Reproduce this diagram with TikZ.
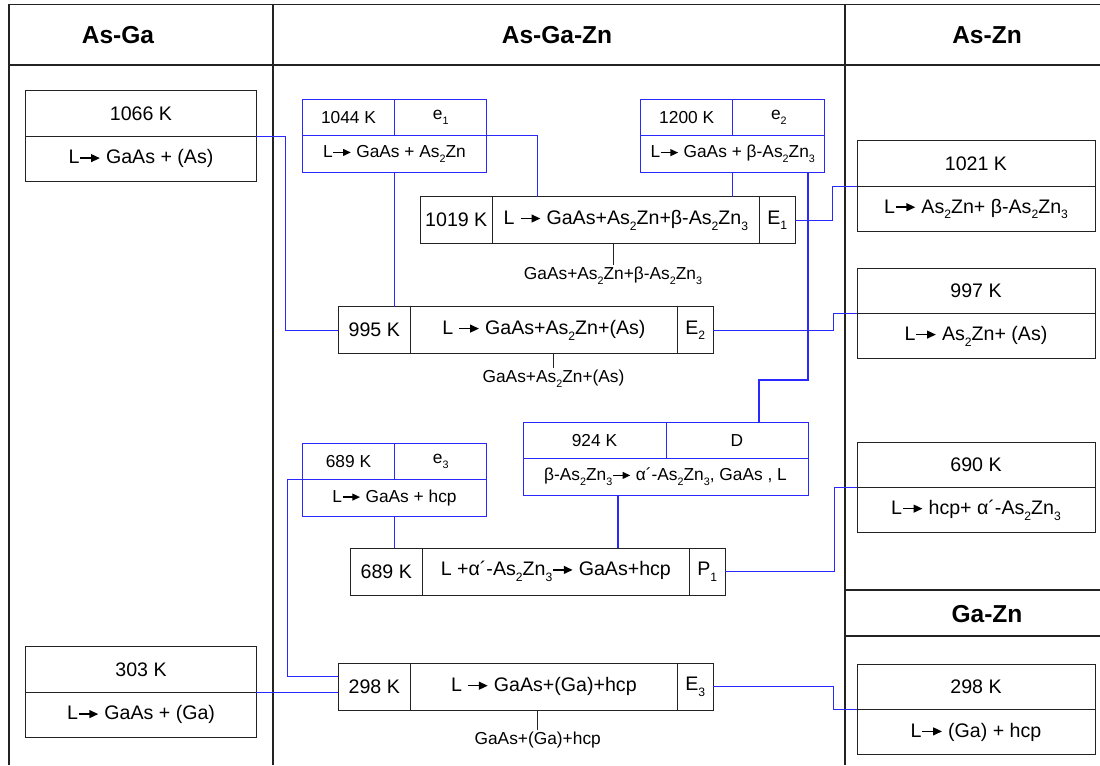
\documentclass[tikz,border=0pt]{standalone}
\usepackage{fontspec}
\usepackage{graphicx}
\setmainfont{Liberation Sans}
\usetikzlibrary{arrows.meta, positioning}
\definecolor{linkblue}{RGB}{40, 40, 255}
\definecolor{framegray}{RGB}{35, 35, 35}
\newcommand{\sbs}[1]{\raisebox{-0.55ex}{\scalebox{0.62}{#1}}}
\newcommand{\ra}{\tikz[baseline=0pt]\draw[black, line width=0.075em, -{Triangle[length=0.45em, width=0.4em]}] (0pt,0.3em) -- (1em,0.3em);}

\begin{document}
\begin{tikzpicture}[
    x=0.75pt, y=-0.75pt,
    frame/.style={draw=framegray, line width=0.8pt},
    hdr/.style={font=\fontsize{18.4}{21}\selectfont\bfseries},
    cell/.style={draw=framegray, line width=0.75pt, inner sep=0pt, outer sep=0pt, align=center, font=\fontsize{14.7}{17}\selectfont},
    asga/.style={cell, minimum height=34.1pt, minimum width=173.1pt},
    aszn/.style={cell, minimum height=34.1pt, minimum width=178.5pt},
    blu/.style={cell, draw=linkblue, font=\fontsize{13}{15}\selectfont, minimum height=27.4pt},
    inv/.style={cell, minimum height=35.25pt},
    link/.style={draw=linkblue, line width=0.9pt},
    tick/.style={draw=framegray, line width=0.6pt},
    prod/.style={font=\fontsize{13}{15}\selectfont, inner sep=1pt}
  ]
    \useasboundingbox (0,0) rectangle (1100,765);

    % table frame
    \draw[frame] (9,765) -- (9,4.3) -- (1100,4.3);
    \draw[frame] (9,65) -- (1100,65);
    \draw[frame] (273,4.3) -- (273,765);
    \draw[frame] (845,4.3) -- (845,765);
    \draw[frame] (845,590) -- (1100,590) (845,636) -- (1100,636);

    \node[hdr] (tAsGa) at (118,35) {As-Ga};
    \node[hdr] (tAsGaZn) at (557,35) {As-Ga-Zn};
    \node[hdr] (tAsZn) at (987,35) {As-Zn};
    \node[hdr] (tGaZn) at (987,614) {Ga-Zn};

    % binary systems
    \node[asga, anchor=north west] (b1066t) at (25.6,90.7) {1066 K};
    \node[asga, below=0pt of b1066t] (b1066r) {L\ra\ GaAs + (As)};
    \node[asga, anchor=north west] (b303t) at (25.6,646.7) {303 K};
    \node[asga, below=0pt of b303t] (b303r) {L\ra\ GaAs + (Ga)};
    \node[aszn, anchor=north west] (b1021t) at (857,140.7) {1021 K};
    \node[aszn, below=0pt of b1021t] (b1021r) {L\ra\ As\sbs2Zn+ β-As\sbs2Zn\sbs3};
    \node[aszn, anchor=north west] (b997t) at (857,268) {997 K};
    \node[aszn, below=0pt of b997t] (b997r) {L\ra\ As\sbs2Zn+ (As)};
    \node[aszn, anchor=north west] (b690t) at (857,442) {690 K};
    \node[aszn, below=0pt of b690t] (b690r) {L\ra\ hcp+ α´-As\sbs2Zn\sbs3};
    \node[aszn, anchor=north west] (b298t) at (857,664) {298 K};
    \node[aszn, below=0pt of b298t] (b298r) {L\ra\ (Ga) + hcp};

    % boundary reactions
    \node[blu, minimum width=69.3pt, anchor=north west] (e1t) at (302.3,99.3) {1044 K};
    \node[blu, minimum width=69pt, right=0pt of e1t] (e1n) {e\sbs1};
    \node[blu, minimum width=138.3pt, anchor=north west] (e1r) at (e1t.south west) {L\ra\ GaAs + As\sbs2Zn};
    \node[blu, minimum width=69.3pt, anchor=north west] (e2t) at (640.5,99.3) {1200 K};
    \node[blu, minimum width=69pt, right=0pt of e2t] (e2n) {e\sbs2};
    \node[blu, minimum width=138.3pt, anchor=north west] (e2r) at (e2t.south west) {L\ra\ GaAs + β-As\sbs2Zn\sbs3};
    \node[blu, minimum width=107.25pt, anchor=north west] (Dt) at (523,422) {924 K};
    \node[blu, minimum width=106.5pt, right=0pt of Dt] (Dn) {D};
    \node[blu, minimum width=213.75pt, anchor=north west] (Dr) at (Dt.south west) {β-As\sbs2Zn\sbs3\ra\ α´-As\sbs2Zn\sbs3, GaAs , L};
    \node[blu, minimum width=69.3pt, anchor=north west] (e3t) at (302.3,443) {689 K};
    \node[blu, minimum width=69pt, right=0pt of e3t] (e3n) {e\sbs3};
    \node[blu, minimum width=138.3pt, anchor=north west] (e3r) at (e3t.south west) {L\ra\ GaAs + hcp};

    % invariant reactions
    \node[inv, minimum width=54.4pt, anchor=north west] (E1t) at (420,196.7) {1019 K};
    \node[inv, minimum width=200pt, right=0pt of E1t] (E1r) {L \ra\ GaAs+As\sbs2Zn+β-As\sbs2Zn\sbs3};
    \node[inv, minimum width=27pt, right=0pt of E1r] (E1n) {E\sbs1};
    \node[inv, minimum width=54.4pt, anchor=north west] (E2t) at (338,306.7) {995 K};
    \node[inv, minimum width=200pt, right=0pt of E2t] (E2r) {L \ra\ GaAs+As\sbs2Zn+(As)};
    \node[inv, minimum width=27pt, right=0pt of E2r] (E2n) {E\sbs2};
    \node[inv, minimum width=54.4pt, anchor=north west] (P1t) at (350,548) {689 K};
    \node[inv, minimum width=200pt, right=0pt of P1t] (P1r) {L +α´-As\sbs2Zn\sbs3\ra\ GaAs+hcp};
    \node[inv, minimum width=27pt, right=0pt of P1r] (P1n) {P\sbs1};
    \node[inv, minimum width=54.4pt, anchor=north west] (E3t) at (338,663) {298 K};
    \node[inv, minimum width=200pt, right=0pt of E3t] (E3r) {L \ra\ GaAs+(Ga)+hcp};
    \node[inv, minimum width=27pt, right=0pt of E3r] (E3n) {E\sbs3};

    % solid products
    \node[prod, anchor=north] (p1) at (613,265) {GaAs+As\sbs2Zn+β-As\sbs2Zn\sbs3};
    \node[prod, anchor=north] (p2) at (553.5,368) {GaAs+As\sbs2Zn+(As)};
    \node[prod, anchor=north] (p3) at (537.7,730) {GaAs+(Ga)+hcp};
    \draw[tick] (p1.north) -- (p1.north |- E1r.south);
    \draw[tick] (p2.north) -- (p2.north |- E2r.south);
    \draw[tick] (p3.north) -- (p3.north |- E3r.south);

    % links
    \draw[link] (b1066r.north east) -- ++(29,0) |- (E2t.west);
    \draw[link] (e1r.south) -- (e1r.south |- E2t.north);
    \draw[link] (e1r.north east) -- ++(50.5,0) coordinate (k1) -- (k1 |- E1r.north);
    \draw[link] (e2r.south) -- (e2r.south |- E1r.north);
    \draw[link] ([xshift=-12.75pt]e2r.south east) |- ([xshift=16.5pt, yshift=31.5pt]Dn.north) -- ([xshift=16.5pt]Dn.north);
    \draw[link] (E1n.east) -- ++(37.5,0) |- (b1021r.north west);
    \draw[link] (E2n.east) -- ++(120,0) |- (b997r.north west);
    \draw[link] ([xshift=-35.6pt]Dr.south) -- ([xshift=-35.6pt]Dr.south |- P1r.north);
    \draw[link] (e3r.south) -- (e3r.south |- P1t.north);
    \draw[link] (e3r.north west) -- ++(-14.5,0) |- ([yshift=7.5pt]E3t.west);
    \draw[link] (b303r.north east) -- (b303r.north east -| E3t.west);
    \draw[link] (P1n.east) -- ++(109,0) |- (b690r.north west);
    \draw[link] (E3n.east) -- ++(120,0) |- (b298r.north west);
  \end{tikzpicture}
\end{document}
